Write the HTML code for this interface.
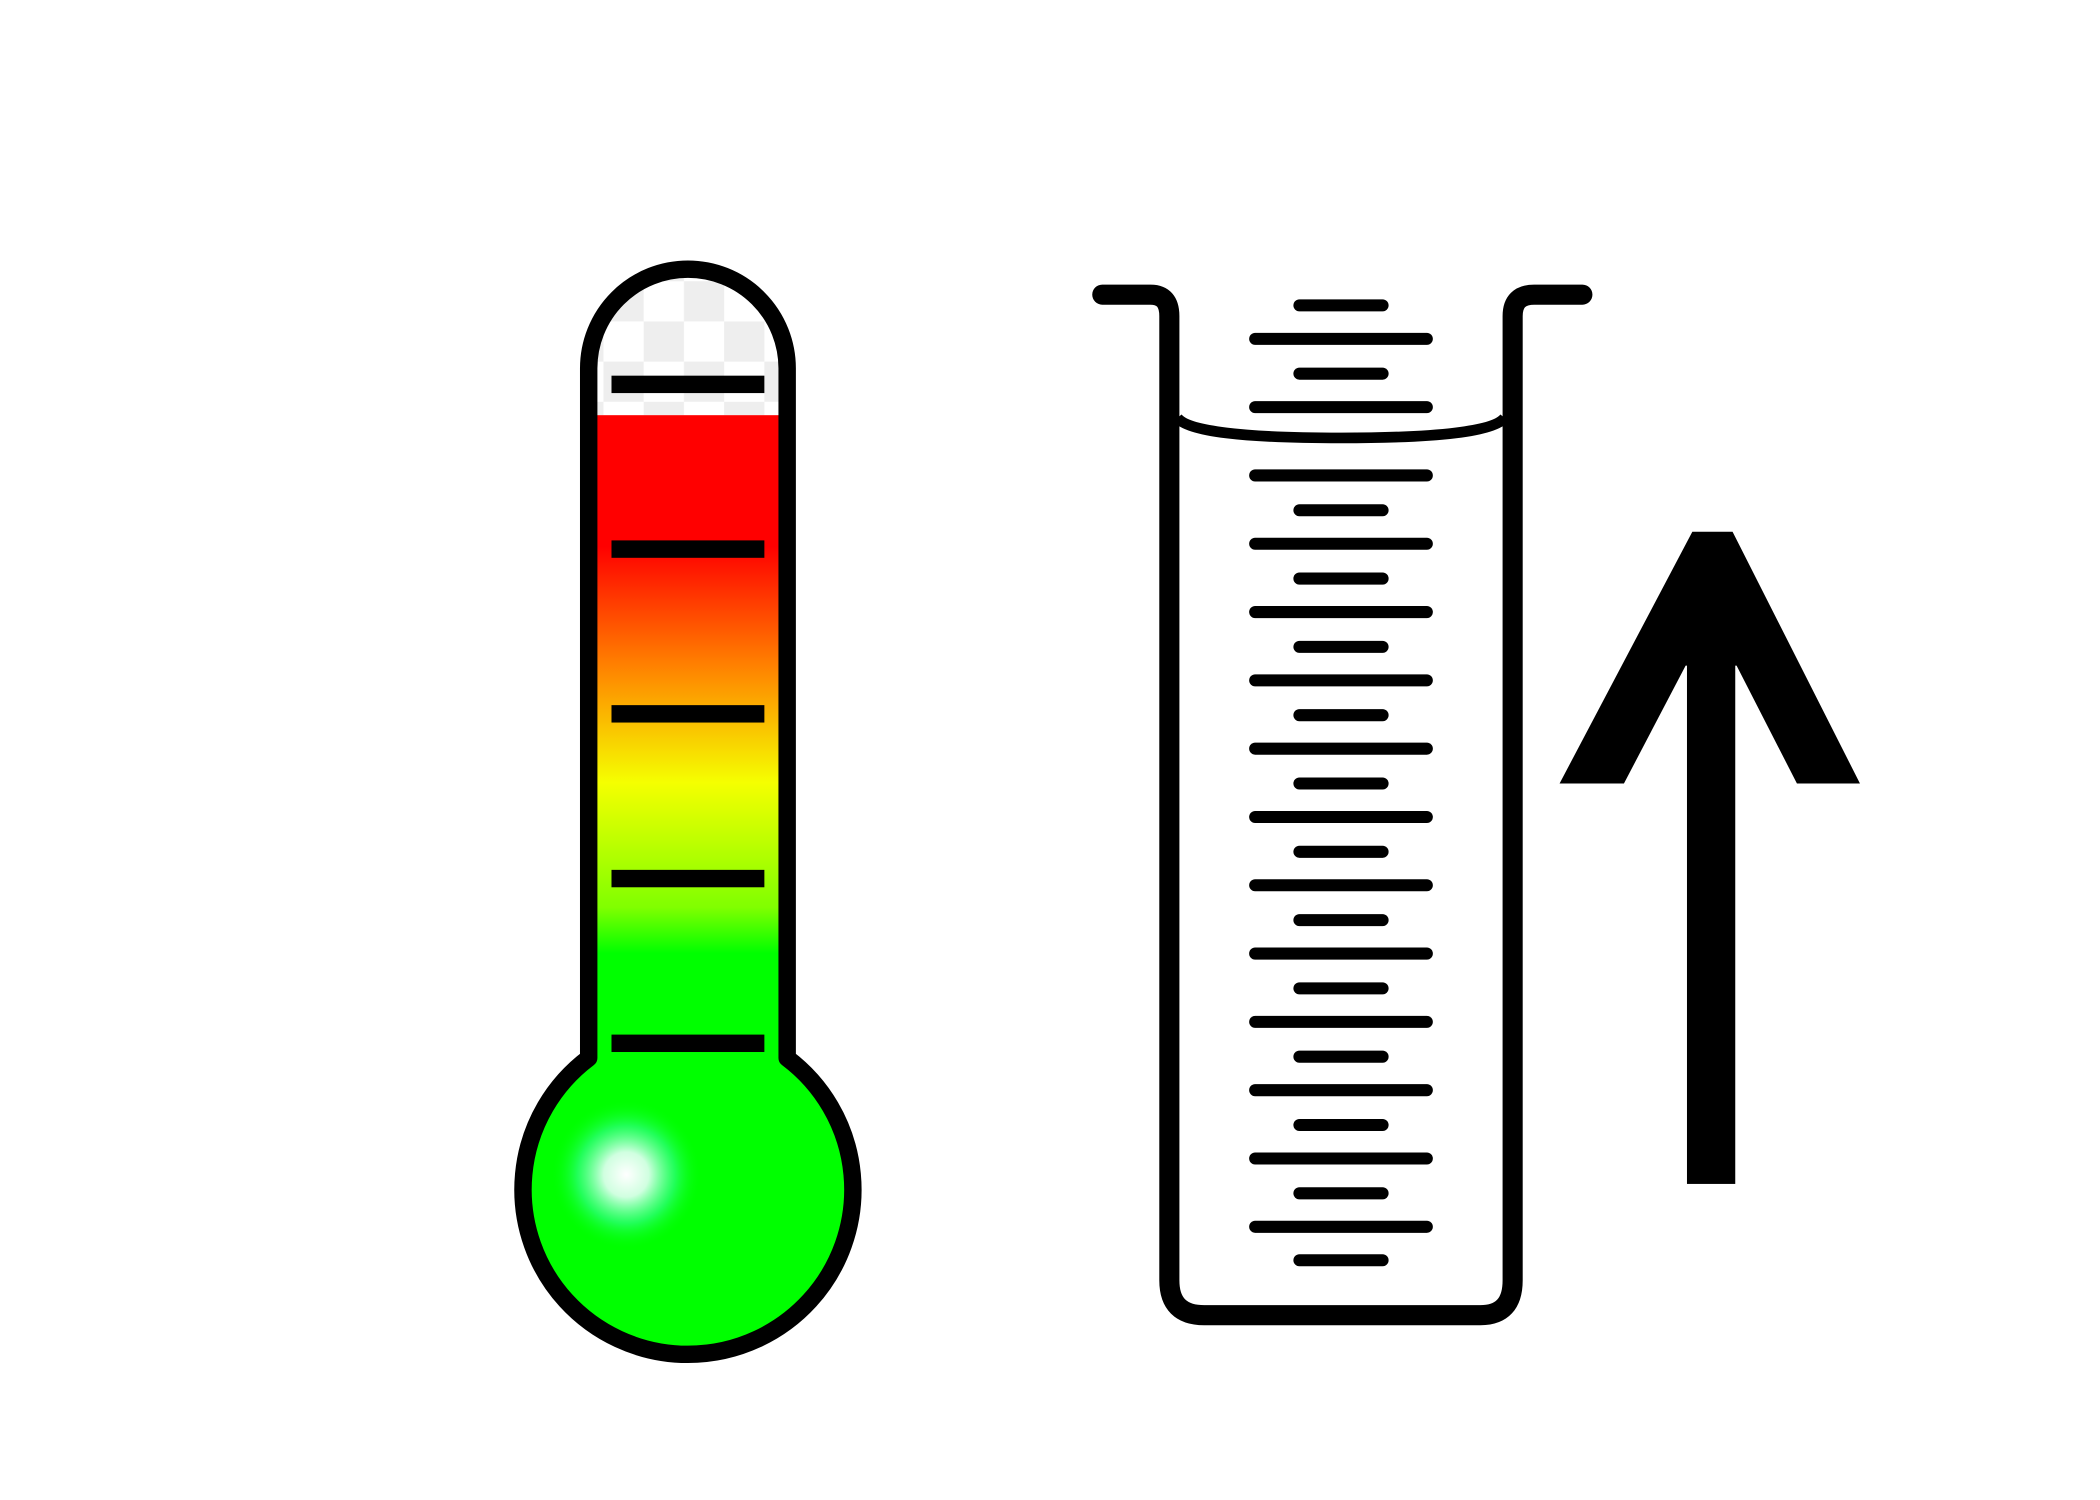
<!DOCTYPE html>
<html><head><meta charset="utf-8"><style>
html,body{margin:0;padding:0;background:#fff;width:2100px;height:1500px;overflow:hidden}
svg{display:block}
</style></head><body>
<svg id="scene" width="2100" height="1500" viewBox="0 0 1566 1120" preserveAspectRatio="none" xmlns="http://www.w3.org/2000/svg">
<defs>
<linearGradient id="liquid" x1="0" y1="310" x2="0" y2="800" gradientUnits="userSpaceOnUse">
<stop offset="0" stop-color="#ff0000"/>
<stop offset="0.2" stop-color="#ff0000"/>
<stop offset="0.38" stop-color="#ff8000"/>
<stop offset="0.56" stop-color="#f5ff00"/>
<stop offset="0.75" stop-color="#80ff00"/>
<stop offset="0.82" stop-color="#00ff00"/>
<stop offset="1" stop-color="#00ff00"/>
</linearGradient>
<radialGradient id="glow" cx="0.5" cy="0.5" r="0.5">
<stop offset="0" stop-color="#ffffff"/>
<stop offset="0.3" stop-color="#d0ffe0"/>
<stop offset="0.65" stop-color="#30ff80" stop-opacity="0.7"/>
<stop offset="1" stop-color="#00ff00" stop-opacity="0"/>
</radialGradient>
<pattern id="checker" x="0" y="0" width="60" height="60" patternUnits="userSpaceOnUse">
<rect width="60" height="60" fill="#fff"/>
<rect x="0" y="0" width="30" height="30" fill="#eeeeee"/>
<rect x="30" y="30" width="30" height="30" fill="#eeeeee"/>
</pattern>
</defs>

<g>
  <path d="M445 310 L445 275 A68 68 0 0 1 581 275 L581 310 Z" fill="url(#checker)"/>
  <rect x="443" y="310" width="140" height="500" fill="url(#liquid)"/>
  <circle cx="513" cy="890" r="122" fill="#00ff00"/>
  <ellipse cx="467" cy="877" rx="56" ry="56" fill="url(#glow)"/>
  <path d="M439 790 L439 275 A74 74 0 0 1 587 275 L587 790 A123 123 0 1 1 439 790 Z" fill="none" stroke="#000" stroke-width="13" stroke-linejoin="round"/>
  <g id="thermo-ticks"></g>
</g>

<g>
  <path d="M822 220 L858 220 Q872 220 872 236 L872 956 Q872 982 898 982 L1104 982 Q1128 982 1128 956 L1128 236 Q1128 220 1144 220 L1180 220" fill="none" stroke="#000" stroke-width="15" stroke-linecap="round" stroke-linejoin="round"/>
  <path d="M878 312 Q890 327 1000 327 Q1110 327 1122 312" fill="none" stroke="#000" stroke-width="8"/>
  <g id="cyl-ticks"></g>
</g>

<g>
  <rect x="1258" y="495" width="36" height="389" fill="#000"/>
  <polygon points="1262,397 1292,397 1387,585 1340,585 1295,497 1257,497 1211,585 1163,585" fill="#000"/>
</g>
</svg>
<script>
const thermoTickYs = [287, 410, 533, 656, 779];
const cylLongTickYs = [253, 304, 355, 406, 457, 508, 559, 610, 661, 712, 763, 814, 865, 916];
const cylShortTickYs = [228, 279, 381, 432, 483, 534, 585, 636, 687, 738, 789, 840, 891, 941];
const NS = 'http://www.w3.org/2000/svg';
const tg = document.getElementById('thermo-ticks');
thermoTickYs.forEach(function(y){
  const r = document.createElementNS(NS,'rect');
  r.setAttribute('x',456); r.setAttribute('y',y-6.5);
  r.setAttribute('width',114); r.setAttribute('height',13);
  r.setAttribute('fill','#000');
  
  
  tg.appendChild(r);
});
const cg = document.getElementById('cyl-ticks');
function cylTick(y, x1, x2, name){
  const l = document.createElementNS(NS,'line');
  l.setAttribute('x1',x1); l.setAttribute('x2',x2);
  l.setAttribute('y1',y); l.setAttribute('y2',y);
  l.setAttribute('stroke','#000'); l.setAttribute('stroke-width','9');
  l.setAttribute('stroke-linecap','round');
  
  
  cg.appendChild(l);
}
cylLongTickYs.forEach(function(y){ cylTick(y, 936, 1064, 'cylinder-major-tick'); });
cylShortTickYs.forEach(function(y){ cylTick(y, 969, 1031, 'cylinder-minor-tick'); });
</script>
</body></html>
